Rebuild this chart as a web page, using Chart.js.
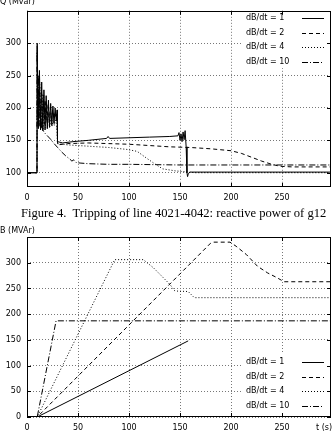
<!DOCTYPE html>
<html lang="en">
<head>
<meta charset="UTF-8">
<title>Tripping of line 4021-4042</title>
<script src="https://cdn.jsdelivr.net/npm/chart.js@4.4.1/dist/chart.umd.min.js"></script>
<style>
    body { margin: 0; background: #fff; width: 335px; height: 435px; overflow: hidden; position: relative; font-family: "DejaVu Sans", sans-serif; }
    canvas { position: absolute; left: 0; }
    #qChart { top: 0; }
    #bChart { top: 222px; }
    .lbl { position: absolute; font-size: 8px; line-height: 9px; color: #000; white-space: nowrap; }
    #caption { position: absolute; top: 206px; left: 21px; font-family: "Liberation Serif", serif; font-size: 12.6px; line-height: 14px; white-space: pre; color: #000; }
</style>
</head>
<body>

<canvas id="qChart" width="335" height="206"></canvas>
<canvas id="bChart" width="335" height="213"></canvas>
<div class="lbl" style="left:0; top:-3px;">Q (Mvar)</div>
<div class="lbl" style="left:0; top:226px;">B (MVAr)</div>
<div class="lbl" style="left:316px; top:423px;">t (s)</div>
<div id="caption">Figure 4.  Tripping of line 4021-4042: reactive power of g12</div>

<script>
// tick labels
const xTicks = [0, 50, 100, 150, 200, 250];
const qTicks = [100, 150, 200, 250, 300];
const bTicks = [0, 50, 100, 150, 200, 250, 300];
const seriesLabels = ['dB/dt = 1', 'dB/dt = 2', 'dB/dt = 4', 'dB/dt = 10'];

// reactive power of g12 (Mvar)
const tQ1 = [0, 9.8, 10.0, 11.1, 12.2, 13.3, 14.4, 15.5, 16.6, 17.7, 18.8, 19.9, 21.0, 22.1, 23.2, 24.3, 25.4, 26.5, 27.6, 28.7, 29.5, 29.9, 35, 45, 60, 78, 79.5, 81, 100, 120, 140, 148, 149, 150, 151, 152, 153, 154, 155, 156, 156.8, 157.4, 158.2, 160, 298];
const q1  = [100, 100, 300, 168, 258, 166, 240, 165, 228, 166, 219, 168, 212, 170, 207, 173, 203, 176, 200, 180, 197, 148, 146, 148, 150, 153, 156, 153, 154, 155, 156, 157, 162, 150, 160, 148, 163, 151, 165, 140, 100, 94, 99, 101, 101];

const tQ2 = [0, 9.8, 10.0, 10.8, 11.9, 13.0, 14.1, 15.2, 16.3, 17.4, 18.5, 19.6, 20.7, 21.8, 22.9, 24.0, 25.1, 26.2, 27.3, 28.4, 29.4, 30.0, 40, 60, 80, 100, 120, 140, 160, 180, 200, 210, 220, 230, 240, 248, 260, 298];
const q2  = [100, 100, 295, 175, 250, 172, 232, 173, 220, 175, 212, 177, 206, 179, 201, 181, 197, 183, 194, 185, 191, 143, 145, 146, 145, 144, 142, 140, 139, 137, 134, 130, 124, 118, 113, 110, 109, 109];

const tQ3 = [0, 9.8, 10.0, 10.5, 11.4, 12.5, 13.6, 14.7, 15.8, 16.9, 18.0, 19.1, 20.2, 21.3, 22.4, 23.5, 24.6, 25.7, 26.8, 27.9, 29.0, 29.8, 40, 60, 80, 98, 108, 115, 125, 133, 145, 158, 165, 298];
const q3  = [100, 100, 290, 200, 170, 240, 168, 222, 168, 210, 169, 200, 170, 193, 171, 188, 172, 184, 173, 181, 176, 145, 143, 141, 139, 136, 133, 125, 114, 106, 103, 101, 100, 100];

const tQ4 = [0, 9.8, 10.0, 10.5, 11.1, 11.7, 12.3, 12.9, 13.5, 14.1, 14.8, 15.5, 17, 20, 23, 26, 30, 34, 38, 42, 44, 46, 48, 52, 60, 80, 100, 150, 200, 298];
const q4  = [100, 100, 285, 175, 250, 172, 225, 170, 205, 168, 188, 166, 162, 157, 152, 146, 139, 132, 126, 121, 118, 120, 116, 115, 114, 113, 113, 112, 112, 112];

// susceptance B (MVAr)
const tB1 = [0, 10, 158];
const b1  = [0, 0, 148];
const tB2 = [0, 10, 180, 183, 199, 205, 215, 226, 236, 244, 252, 298];
const b2  = [0, 0, 338, 340, 340, 332, 316, 293, 280, 272, 263, 263];
const tB3 = [0, 10, 86, 114, 124, 134, 140, 145, 158, 164, 298];
const b3  = [0, 0, 306, 306, 290, 270, 258, 245, 244, 232, 232];
const tB4 = [0, 10, 28.5, 298];
const b4  = [0, 0, 187, 187];

const dashes = [[], [4, 3], [1, 2], [6, 2, 1, 2]];
const font = { family: '"DejaVu Sans", sans-serif', size: 8 };

function pts(t, v) {
    return t.map((x, i) => ({ x: x, y: v[i] }));
}

function makeDatasets(series) {
    return series.map((s, i) => ({
        label: seriesLabels[i],
        data: pts(s[0], s[1]),
        borderColor: '#000',
        borderWidth: 1,
        borderDash: dashes[i],
        pointRadius: 0,
        fill: false,
        tension: 0
    }));
}

// gnuplot-like frame with inward tick marks
const framePlugin = {
    id: 'frame',
    afterDraw(chart) {
        const ctx = chart.ctx, a = chart.chartArea;
        const xs = chart.scales.x, ys = chart.scales.y;
        ctx.save();
        ctx.strokeStyle = '#000';
        ctx.lineWidth = 1;
        ctx.setLineDash([]);
        ctx.beginPath();
        xs.ticks.forEach(t => {
            const px = Math.round(xs.getPixelForValue(t.value)) + 0.5;
            ctx.moveTo(px, a.bottom); ctx.lineTo(px, a.bottom - 4);
            ctx.moveTo(px, a.top); ctx.lineTo(px, a.top + 4);
        });
        ys.ticks.forEach(t => {
            const py = Math.round(ys.getPixelForValue(t.value)) + 0.5;
            ctx.moveTo(a.left, py); ctx.lineTo(a.left + 4, py);
            ctx.moveTo(a.right, py); ctx.lineTo(a.right - 4, py);
        });
        ctx.stroke();
        ctx.strokeRect(Math.round(a.left) + 0.5, Math.round(a.top) + 0.5, Math.round(a.right - a.left) - 1, Math.round(a.bottom - a.top) - 1);
        ctx.restore();
    }
};

// key box: white background, label then line sample
const keyPlugin = {
    id: 'key',
    afterDatasetsDraw(chart, args, o) {
        const ctx = chart.ctx;
        ctx.save();
        ctx.fillStyle = '#fff';
        ctx.fillRect(o.x0, o.y0, o.w, o.h);
        ctx.font = '8px "DejaVu Sans"';
        ctx.textBaseline = 'middle';
        ctx.textAlign = 'left';
        chart.data.datasets.forEach((ds, i) => {
            const y = o.rowY + i * o.rowH;
            ctx.fillStyle = '#000';
            ctx.fillText(ds.label, o.textX, y);
            ctx.beginPath();
            ctx.setLineDash(ds.borderDash);
            ctx.strokeStyle = '#000';
            ctx.lineWidth = 1;
            ctx.moveTo(o.lineX0, Math.round(y) + 0.5);
            ctx.lineTo(o.lineX1, Math.round(y) + 0.5);
            ctx.stroke();
        });
        ctx.restore();
    }
};

function makeChart(id, series, yMin, yMax, yTicks, padTop, xHeight, key) {
    return new Chart(document.getElementById(id), {
        type: 'line',
        data: { datasets: makeDatasets(series) },
        plugins: [keyPlugin, framePlugin],
        options: {
            responsive: false,
            animation: false,
            events: [],
            layout: { padding: { left: 0, right: 4, top: padTop, bottom: 0 } },
            scales: {
                x: {
                    type: 'linear',
                    min: 0,
                    max: 298,
                    afterBuildTicks: s => { s.ticks = xTicks.map(v => ({ value: v })); },
                    afterFit: s => { s.height = xHeight; },
                    ticks: { font: font, color: '#000', padding: 6, maxRotation: 0 },
                    grid: { color: '#777', lineWidth: 1, drawTicks: false },
                    border: { display: false, dash: [1, 2] }
                },
                y: {
                    min: yMin,
                    max: yMax,
                    afterBuildTicks: s => { s.ticks = yTicks.map(v => ({ value: v })); },
                    afterFit: s => { s.width = 27; },
                    ticks: { font: font, color: '#000', padding: 6 },
                    grid: { color: '#777', lineWidth: 1, drawTicks: false },
                    border: { display: false, dash: [1, 2] }
                }
            },
            plugins: {
                legend: { display: false },
                tooltip: { enabled: false },
                key: key
            }
        }
    });
}

makeChart('qChart', [[tQ1, q1], [tQ2, q2], [tQ3, q3], [tQ4, q4]], 78, 350, qTicks, 7, 19,
    { x0: 243, y0: 10, w: 86, h: 58, textX: 246, rowY: 18, rowH: 14.5, lineX0: 302, lineX1: 324 });

makeChart('bChart', [[tB1, b1], [tB2, b2], [tB3, b3], [tB4, b4]], 0, 350, bTicks, 15, 18,
    { x0: 243, y0: 131, w: 86, h: 60, textX: 246, rowY: 140, rowH: 14.5, lineX0: 302, lineX1: 324 });
</script>

</body>
</html>
